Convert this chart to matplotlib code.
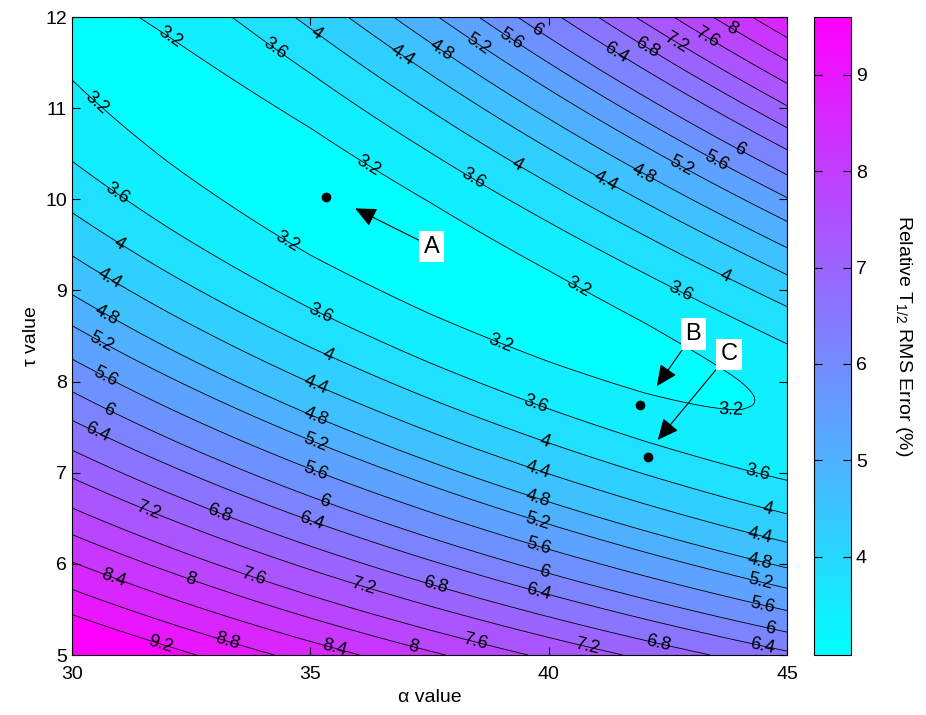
import numpy as np
import matplotlib.pyplot as plt
from matplotlib import colors, cm

plt.rcParams['font.family'] = ['Liberation Sans', 'DejaVu Sans']
plt.rcParams['mathtext.default'] = 'regular'

# error profile below the valley, against alpha*tau
low_p = [130, 150, 162.8, 171, 180, 189, 197.6, 207.5, 216.5, 226.3, 235.5,
         246, 257, 266.6, 278.7, 292, 306, 324, 345, 370, 560]
low_e = [10.4, 9.6, 9.2, 8.8, 8.4, 8.0, 7.6, 7.2, 6.8, 6.4, 6.0,
         5.6, 5.2, 4.8, 4.4, 4.0, 3.6, 3.2, 2.8, 2.3, -1.5]
# error profile above the valley, against alpha*tau + 1.7*(alpha - 37.5)
up_q = [130, 330, 352, 378, 396, 412.6, 427.4, 440.2, 453, 464.5, 475.6,
        488, 498.7, 509.5, 520.5, 531.8, 560]
up_e = [-1.0, 2.4, 2.8, 3.2, 3.6, 4.0, 4.4, 4.8, 5.2, 5.6, 6.0,
        6.4, 6.8, 7.2, 7.6, 8.0, 9.0]
# rounding of the valley floor along alpha
floor_alpha = [30, 32, 35, 37.5, 40, 42, 44, 45]
floor_w = [0.5, 0.4, 0.28, 0.25, 0.26, 0.29, 0.35, 0.39]

levels = np.round(np.arange(3.2, 9.21, 0.4), 1)

# where each contour carries its label (alpha, tau)
label_spots = [
    (32.12, 11.82), (34.3, 11.69), (35.16, 11.84), (36.94, 11.58), (37.76, 11.64),
    (38.52, 11.71), (39.23, 11.77), (39.78, 11.88), (41.43, 11.62), (42.06, 11.67),
    (42.69, 11.73), (43.34, 11.78), (43.85, 11.88),
    (36.25, 10.4), (38.5, 10.29), (39.36, 10.41), (41.22, 10.23), (42.02, 10.30),
    (42.8, 10.38), (43.53, 10.43), (44.0, 10.54), (40.66, 9.08), (42.82, 9.03),
    (43.74, 9.2),
    (30.52, 11.06), (30.95, 10.07), (31.03, 9.54), (30.84, 9.17), (30.76, 8.76),
    (30.65, 8.456), (30.73, 8.08), (30.8, 7.71), (30.52, 7.44), (31.6, 6.58),
    (33.1, 6.58), (30.86, 5.84), (32.5, 5.84), (33.8, 5.86), (31.85, 5.11),
    (33.25, 5.14),
    (34.51, 9.52), (35.16, 8.69), (35.35, 8.27), (35.1, 7.93), (35.1, 7.60),
    (35.1, 7.33), (35.1, 7.01), (35.3, 6.68), (35.0, 6.45), (36.1, 5.75),
    (35.5, 5.08), (37.15, 5.08),
    (38.98, 8.40), (39.71, 7.72), (39.88, 7.30), (39.75, 7.0), (39.75, 6.68),
    (39.75, 6.43), (39.78, 6.17), (39.9, 5.9), (39.78, 5.68), (37.6, 5.73),
    (38.45, 5.13), (40.8, 5.08), (42.3, 5.11), (44.47, 5.09),
    (43.82, 7.74), (44.37, 6.97), (44.58, 6.57), (44.43, 6.29), (44.43, 6.02),
    (44.43, 5.77), (44.47, 5.52), (44.64, 5.27),
]

# marked parameter sets
mark_alpha = [35.33, 41.92, 42.08]
mark_tau = [10.03, 7.74, 7.17]
tags = ['A', 'B', 'C']
tag_alpha = [37.55, 43.03, 43.78]
tag_tau = [9.48, 8.52, 8.30]
tip_alpha = [35.94, 42.27, 42.29]
tip_tau = [9.90, 7.95, 7.36]


def rms_error(a, t):
    p = a * t
    q = p + 1.7 * (a - 37.5)
    lo = np.interp(p, low_p, low_e)
    hi = np.interp(q, up_q, up_e)
    w = np.interp(a, floor_alpha, floor_w)
    # smooth maximum of the two flanks, rounded off at the valley floor
    return 0.5 * (lo + hi) + np.sqrt((0.5 * (lo - hi)) ** 2 + w ** 2)


alpha = np.linspace(30, 45, 301)
tau = np.linspace(5, 12, 281)
A, T = np.meshgrid(alpha, tau)
Z = rms_error(A, T)

fig = plt.figure(figsize=(9.26, 7.15), dpi=100)
ax = fig.add_axes([72 / 926, 60 / 715, 715 / 926, 638 / 715])
cax = fig.add_axes([814 / 926, 60 / 715, 37 / 926, 638 / 715])

norm = colors.Normalize(vmin=2.98, vmax=9.6)
fill_levels = np.concatenate([[2.0], levels, [10.5]])
ax.contourf(A, T, Z, levels=fill_levels, cmap='cool', norm=norm)
cs = ax.contour(A, T, Z, levels=levels, colors='k', linewidths=0.6)
texts = ax.clabel(cs, levels, manual=label_spots, inline=False, fontsize=13, fmt='%g')
for t in texts:
    t.set_clip_on(True)

ax.plot(mark_alpha, mark_tau, 'o', color='k', markersize=6)
for tag, ta, tt, xa, xt in zip(tags, tag_alpha, tag_tau, tip_alpha, tip_tau):
    ax.annotate(tag, xy=(xa, xt), xytext=(ta, tt), fontsize=17, ha='center', va='center',
                bbox=dict(boxstyle='square,pad=0.2', fc='white', ec='none'),
                arrowprops=dict(arrowstyle='-|>,head_length=0.65,head_width=0.3',
                                color='k', lw=0.8, mutation_scale=20,
                                shrinkA=0, shrinkB=0))

ax.set_xlim(30, 45)
ax.set_ylim(5, 12)
ax.set_xticks([30, 35, 40, 45])
ax.set_yticks(range(5, 13))
ax.tick_params(direction='in', top=True, right=True, length=6, labelsize=14)
ax.tick_params(axis='x', pad=8)
ax.set_xlabel('α value', fontsize=14)
ax.set_ylabel('τ value', fontsize=14)

sm = cm.ScalarMappable(norm=norm, cmap='cool')
cb = fig.colorbar(sm, cax=cax, ticks=range(4, 10))
cax.tick_params(direction='in', left=True, right=True, length=6, labelsize=14)
cb.set_label('Relative T$_{1/2}$ RMS Error (%)', fontsize=14, rotation=270, labelpad=34)

fig.savefig('out.png', dpi=100)
